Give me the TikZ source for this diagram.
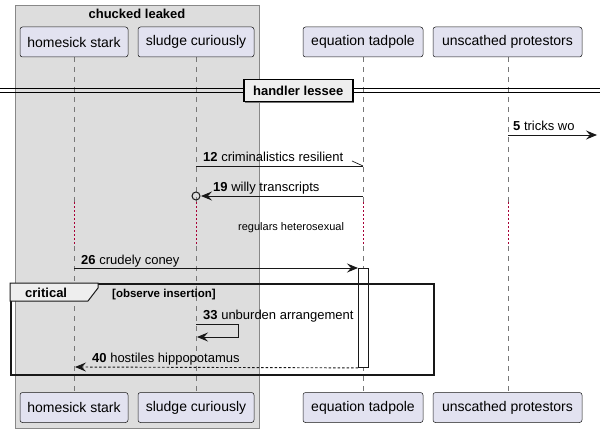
\documentclass[tikz,border=0pt]{standalone}
\usepackage{fontspec}
\setmainfont{Liberation Sans}
\usetikzlibrary{arrows.meta}
\definecolor{partfill}{HTML}{E2E2F0}
\definecolor{partline}{HTML}{181818}
\definecolor{grpfill}{HTML}{DDDDDD}
\definecolor{grpline}{HTML}{888888}
\definecolor{lifeline}{HTML}{777777}
\definecolor{delayred}{HTML}{A80036}
\definecolor{tabfill}{HTML}{EEEEEE}
\tikzset{
  part/.style={draw=partline, fill=partfill, rounded corners=2.5pt, minimum width=#1, minimum height=30pt, inner sep=0pt, font=\fontsize{14}{16}\selectfont, line width=0.5pt},
  life/.style={draw=lifeline, dash pattern=on 5pt off 5pt, line width=0.5pt},
  delay/.style={draw=delayred, dash pattern=on 1.5pt off 2.5pt, line width=0.8pt},
  msg/.style={draw=partline, line width=0.9pt, -{Stealth[length=11pt,width=9pt,inset=4pt]}},
  msgr/.style={draw=partline, line width=0.9pt, {Stealth[length=11pt,width=9pt,inset=4pt]}-},
  lbl/.style={anchor=base west, inner sep=0pt, font=\fontsize{13}{15}\selectfont},
}
\begin{document}
\begin{tikzpicture}[x=1pt,y=-1pt]
\useasboundingbox (0,0) rectangle (600,433);
% group box
\node[draw=grpline, fill=grpfill, line width=0.8pt, minimum width=244pt, minimum height=423pt, inner sep=0pt, anchor=north west] (grp) at (15,5) {};
\node[anchor=base, inner sep=0pt, font=\fontsize{13}{15}\selectfont\bfseries] (grpt) at (137,19) {chucked leaked};
% lifelines
\foreach \x/\n in {74/a,196/b,363/c,508/d}{
  \coordinate (\n top) at (\x,57);
  \coordinate (\n d1) at (\x,202);
  \coordinate (\n d2) at (\x,246);
  \coordinate (\n bot) at (\x,392);
  \draw[life] (\n top) -- (\n d1);
  \draw[delay] (\n d1) -- (\n d2);
  \draw[life] (\n d2) -- (\n bot);
}
% participants
\node[part=108pt] (hs) at (74,42) {homesick stark};
\node[part=116pt] (sc) at (196,42) {sludge curiously};
\node[part=120pt] (et) at (363,42) {equation tadpole};
\node[part=149pt] (up) at (507.5,42) {unscathed protestors};
\node[part=108pt] (hs2) at (74,407.5) {homesick stark};
\node[part=116pt] (sc2) at (196,407.5) {sludge curiously};
\node[part=120pt] (et2) at (363,407.5) {equation tadpole};
\node[part=149pt] (up2) at (507.5,407.5) {unscathed protestors};
% divider
\coordinate (dl1) at (0,89); \coordinate (dr1) at (600,89);
\coordinate (dl2) at (0,93); \coordinate (dr2) at (600,93);
\draw[line width=1pt] (dl1) -- (dr1);
\draw[line width=1pt] (dl2) -- (dr2);
\fill[partline!60] (245,81) rectangle (354,103);
\node[draw=black, fill=tabfill, line width=1.5pt, minimum width=109pt, minimum height=22pt, inner sep=0pt, anchor=north west, font=\fontsize{13}{15}\selectfont\bfseries] (div) at (243,79) {handler lessee};
% message 5
\coordinate (m5a) at (508,135); \coordinate (m5b) at (597,135);
\draw[msg] (m5a) -- (m5b);
\node[lbl] (l5) at (513,131) {\textbf{5} tricks wo};
% message 12
\coordinate (m12a) at (196,166); \coordinate (m12b) at (363,166); \coordinate (m12h) at (352,161);
\draw[draw=partline, line width=0.9pt] (m12a) -- (m12b);
\draw[draw=partline, line width=0.7pt] (m12h) -- (m12b);
\node[lbl] (l12) at (203,161) {\textbf{12} criminalistics resilient};
% message 19
\node[draw=partline, line width=1pt, circle, minimum size=8pt, inner sep=0pt] (c19) at (196,196) {};
\coordinate (m19a) at (201,196); \coordinate (m19b) at (363,196);
\draw[msgr] (m19a) -- (m19b);
\node[lbl] (l19) at (213,191) {\textbf{19} willy transcripts};
% delay text
\node[lbl, font=\fontsize{11}{13}\selectfont] (dly) at (238,230) {regulars heterosexual};
% activation
\node[draw=partline, fill=white, line width=0.9pt, minimum width=10pt, minimum height=99pt, inner sep=0pt, anchor=north west] (act) at (358,268) {};
% message 26
\coordinate (m26a) at (74,268);
\draw[msg] (m26a) -- (act.north west);
\node[lbl] (l26) at (81,264) {\textbf{26} crudely coney};
% critical frame
\node[draw=partline, line width=1.6pt, minimum width=423pt, minimum height=91pt, inner sep=0pt, anchor=north west] (crit) at (10,283) {};
\coordinate (t1) at (10,283); \coordinate (t2) at (98,283); \coordinate (t3) at (98,288); \coordinate (t4) at (88,301); \coordinate (t5) at (10,301);
\draw[draw=partline, fill=tabfill, line width=1pt] (t1) -- (t2) -- (t3) -- (t4) -- (t5) -- cycle;
\node[lbl, font=\fontsize{13}{15}\selectfont\bfseries] (ct) at (25,297) {critical};
\node[lbl, font=\fontsize{11.5}{13}\selectfont\bfseries] (cg) at (112,297) {[observe insertion]};
% message 33
\coordinate (m33a) at (196,324); \coordinate (m33b) at (238,324); \coordinate (m33c) at (238,337); \coordinate (m33d) at (197,337);
\draw[msg] (m33a) -- (m33b) -- (m33c) -- (m33d);
\node[lbl] (l33) at (203,319) {\textbf{33} unburden arrangement};
% message 40
\coordinate (m40a) at (75,367);
\draw[msg, dash pattern=on 2.5pt off 2pt] (act.south west) -- (m40a);
\node[lbl] (l40) at (92,362) {\textbf{40} hostiles hippopotamus};
\end{tikzpicture}
\end{document}
